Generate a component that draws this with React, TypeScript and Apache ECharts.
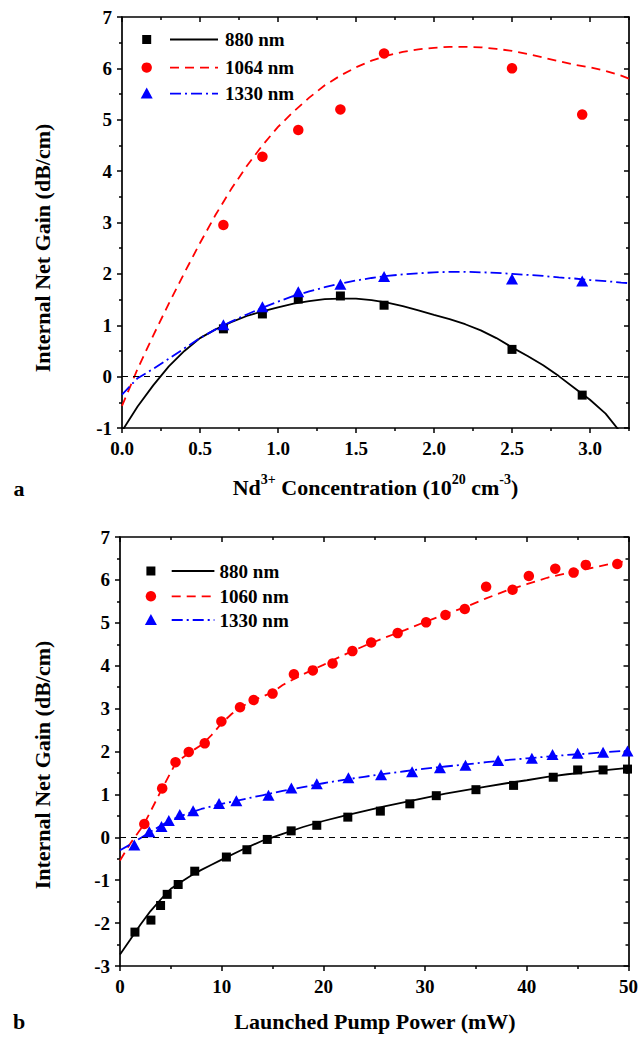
import { useEffect, useRef } from 'react';
import * as echarts from 'echarts';

// ---------- Panel a : gain vs Nd3+ concentration ----------
const concA = [0.65, 0.9, 1.13, 1.4, 1.68, 2.5, 2.95];
const gainA880 = [0.93, 1.22, 1.51, 1.57, 1.39, 0.53, -0.36];
const gainA1064 = [2.95, 4.28, 4.8, 5.2, 6.29, 6.0, 5.1];
const gainA1330 = [1.01, 1.36, 1.65, 1.8, 1.95, 1.9, 1.86];

const fitAX = [0, 0.1, 0.2, 0.3, 0.4, 0.5, 0.6, 0.7, 0.8, 0.9, 1.0, 1.1, 1.2, 1.3, 1.4, 1.5, 1.6, 1.7, 1.8, 1.9, 2.0, 2.1, 2.2, 2.3, 2.4, 2.5, 2.6, 2.7, 2.8, 2.9, 3.0, 3.1, 3.2, 3.25];
const fitA880 = [-1.06, -0.58, -0.17, 0.2, 0.5, 0.75, 0.92, 1.06, 1.18, 1.27, 1.35, 1.42, 1.47, 1.51, 1.52, 1.52, 1.49, 1.44, 1.37, 1.29, 1.2, 1.12, 1.02, 0.9, 0.75, 0.57, 0.4, 0.22, 0.01, -0.22, -0.45, -0.72, -1.1, -1.3];
const fitA1064 = [-0.57, 0.15, 0.8, 1.42, 2.02, 2.6, 3.15, 3.65, 4.1, 4.5, 4.86, 5.16, 5.43, 5.67, 5.86, 6.02, 6.15, 6.25, 6.32, 6.37, 6.4, 6.42, 6.42, 6.41, 6.38, 6.34, 6.28, 6.21, 6.14, 6.07, 6.02, 5.95, 5.86, 5.8];
const fitA1330 = [-0.35, -0.03, 0.15, 0.35, 0.55, 0.75, 0.92, 1.07, 1.21, 1.34, 1.46, 1.57, 1.66, 1.74, 1.81, 1.87, 1.92, 1.96, 1.99, 2.01, 2.03, 2.04, 2.04, 2.03, 2.02, 2.0, 1.98, 1.96, 1.93, 1.91, 1.88, 1.86, 1.83, 1.82];

const ticksAMajor = [0, 0.5, 1.0, 1.5, 2.0, 2.5, 3.0];
const ticksAMinor = [0.25, 0.75, 1.25, 1.75, 2.25, 2.75, 3.25];

// ---------- Panel b : gain vs launched pump power ----------
const powB880 = [1.47, 3.04, 3.99, 4.64, 5.72, 7.35, 10.46, 12.48, 14.48, 16.83, 19.35, 22.4, 25.6, 28.5, 31.1, 35.0, 38.7, 42.6, 45.0, 47.5, 49.9];
const gainB880 = [-2.21, -1.93, -1.59, -1.33, -1.1, -0.79, -0.46, -0.29, -0.05, 0.15, 0.28, 0.47, 0.61, 0.78, 0.97, 1.11, 1.21, 1.4, 1.57, 1.57, 1.59];

const powB1060 = [2.39, 4.15, 5.46, 6.76, 8.33, 9.97, 11.8, 13.14, 15.0, 17.1, 18.96, 20.9, 22.85, 24.7, 27.3, 30.1, 32.0, 33.9, 36.0, 38.6, 40.2, 42.8, 44.6, 45.8, 48.9];
const gainB1060 = [0.31, 1.14, 1.75, 1.99, 2.19, 2.7, 3.03, 3.2, 3.35, 3.8, 3.89, 4.05, 4.34, 4.54, 4.76, 5.01, 5.18, 5.32, 5.84, 5.77, 6.09, 6.26, 6.17, 6.35, 6.37];

const powB1330 = [1.41, 2.88, 4.08, 4.8, 5.88, 7.19, 9.74, 11.44, 14.6, 16.85, 19.35, 22.46, 25.67, 28.72, 31.46, 33.97, 37.18, 40.5, 42.53, 45.0, 47.5, 49.9];
const gainB1330 = [-0.18, 0.13, 0.25, 0.39, 0.53, 0.62, 0.79, 0.85, 0.98, 1.15, 1.25, 1.39, 1.46, 1.53, 1.62, 1.68, 1.79, 1.84, 1.93, 1.96, 1.98, 2.01];

const fitB880X = [0, 1, 2, 3, 4, 4.7, 5, 6, 7, 8, 9, 10, 12, 14, 15, 16, 18, 20, 22, 24, 26, 28, 30, 32, 34, 36, 38, 40, 42, 44, 46, 48, 50];
const fitB880 = [-2.73, -2.39, -2.04, -1.72, -1.45, -1.27, -1.2, -1.04, -0.89, -0.76, -0.64, -0.52, -0.29, -0.08, 0.0, 0.08, 0.24, 0.38, 0.5, 0.61, 0.72, 0.82, 0.92, 1.02, 1.1, 1.18, 1.26, 1.33, 1.41, 1.47, 1.52, 1.57, 1.62];

const fitB1060X = [0, 1, 2, 2.4, 3, 4, 5, 5.3, 6, 7, 8, 9, 10, 11, 12, 13, 14, 15, 16, 18, 20, 22, 24, 26, 28, 30, 32, 34, 36, 38, 40, 42, 44, 46, 48, 50];
const fitB1060 = [-0.54, -0.15, 0.18, 0.33, 0.6, 1.07, 1.52, 1.65, 1.83, 2.0, 2.15, 2.38, 2.66, 2.88, 3.05, 3.18, 3.28, 3.38, 3.55, 3.8, 4.02, 4.25, 4.46, 4.65, 4.83, 5.02, 5.2, 5.37, 5.57, 5.75, 5.9, 6.05, 6.16, 6.26, 6.36, 6.45];

const fitB1330X = [0, 1, 2, 3, 4, 5, 6, 7, 8, 10, 12, 14, 16, 18, 20, 22, 24, 26, 28, 30, 32, 34, 36, 38, 40, 42, 44, 46, 48, 50];
const fitB1330 = [-0.3, -0.17, -0.02, 0.13, 0.27, 0.4, 0.5, 0.58, 0.66, 0.78, 0.88, 0.98, 1.08, 1.17, 1.26, 1.34, 1.41, 1.48, 1.54, 1.6, 1.65, 1.7, 1.75, 1.8, 1.84, 1.88, 1.92, 1.95, 1.99, 2.02];

const legendA = ['880 nm', '1064 nm', '1330 nm'];
const legendB = ['880 nm', '1060 nm', '1330 nm'];

const FONT = '"Liberation Serif", "Times New Roman", Times, serif';
const BLACK = '#000000';
const RED = '#ff0000';
const BLUE = '#0000ff';
const DASH_RED = [9, 6];
const DASH_BLUE = [11, 4, 2, 4];
const DASH_ZERO = [6, 5];

const pairs = (xs: number[], ys: number[]) => xs.map((x, i) => [x, ys[i]]);

const axisLine = { show: true, onZero: false, lineStyle: { color: BLACK, width: 1.7 } };
const tickStyle = { color: BLACK, width: 1.5 };
const labelStyle = { color: BLACK, fontFamily: FONT, fontWeight: 'bold' as const, fontSize: 19 };

function buildOption() {
  const xAxis: any[] = [
    {
      gridIndex: 0, type: 'value', position: 'bottom', min: 0, max: 3.25, interval: 0.25,
      axisLine, splitLine: { show: false },
      axisTick: { show: true, inside: false, length: 5, lineStyle: tickStyle, customValues: ticksAMajor },
      axisLabel: {
        ...labelStyle, margin: 11,
        formatter: (v: number) => (Math.abs(v * 2 - Math.round(v * 2)) < 1e-6 ? v.toFixed(1) : ''),
      },
    },
    {
      gridIndex: 0, type: 'value', position: 'bottom', min: 0, max: 3.25, interval: 0.25,
      axisLine: { show: false, onZero: false }, splitLine: { show: false }, axisLabel: { show: false },
      axisTick: { show: true, inside: false, length: 3, lineStyle: tickStyle, customValues: ticksAMinor },
    },
    {
      gridIndex: 0, type: 'value', position: 'top', min: 0, max: 3.25, interval: 0.25,
      axisLine, splitLine: { show: false }, axisLabel: { show: false },
      axisTick: { show: true, inside: true, length: 5, lineStyle: tickStyle, customValues: ticksAMajor },
    },
    {
      gridIndex: 0, type: 'value', position: 'top', min: 0, max: 3.25, interval: 0.25,
      axisLine: { show: false, onZero: false }, splitLine: { show: false }, axisLabel: { show: false },
      axisTick: { show: true, inside: true, length: 3, lineStyle: tickStyle, customValues: ticksAMinor },
    },
    {
      gridIndex: 1, type: 'value', position: 'bottom', min: 0, max: 50, interval: 10,
      axisLine, splitLine: { show: false },
      axisTick: { show: true, inside: false, length: 5, lineStyle: tickStyle },
      minorTick: { show: true, splitNumber: 2, length: 3, lineStyle: tickStyle },
      axisLabel: { ...labelStyle, margin: 11 },
    },
    {
      gridIndex: 1, type: 'value', position: 'top', min: 0, max: 50, interval: 10,
      axisLine, splitLine: { show: false }, axisLabel: { show: false },
      axisTick: { show: true, inside: true, length: 5, lineStyle: tickStyle },
      minorTick: { show: true, splitNumber: 2, length: 3, lineStyle: tickStyle },
    },
  ];

  const yAxis: any[] = [
    {
      gridIndex: 0, type: 'value', position: 'left', min: -1, max: 7, interval: 1,
      axisLine, splitLine: { show: false },
      axisTick: { show: true, inside: false, length: 5, lineStyle: tickStyle },
      minorTick: { show: true, splitNumber: 2, length: 3, lineStyle: tickStyle },
      axisLabel: { ...labelStyle, margin: 10 },
    },
    {
      gridIndex: 0, type: 'value', position: 'right', min: -1, max: 7, interval: 1,
      axisLine, splitLine: { show: false }, axisLabel: { show: false },
      axisTick: { show: true, inside: true, length: 5, lineStyle: tickStyle },
      minorTick: { show: true, splitNumber: 2, length: 3, lineStyle: tickStyle },
    },
    {
      gridIndex: 1, type: 'value', position: 'left', min: -3, max: 7, interval: 1,
      axisLine, splitLine: { show: false },
      axisTick: { show: true, inside: false, length: 5, lineStyle: tickStyle },
      minorTick: { show: true, splitNumber: 2, length: 3, lineStyle: tickStyle },
      axisLabel: { ...labelStyle, margin: 10 },
    },
    {
      gridIndex: 1, type: 'value', position: 'right', min: -3, max: 7, interval: 1,
      axisLine, splitLine: { show: false }, axisLabel: { show: false },
      axisTick: { show: true, inside: true, length: 5, lineStyle: tickStyle },
      minorTick: { show: true, splitNumber: 2, length: 3, lineStyle: tickStyle },
    },
  ];

  const zeroLine = {
    silent: true, symbol: ['none', 'none'], label: { show: false },
    lineStyle: { color: BLACK, width: 1.2, type: DASH_ZERO },
    data: [{ yAxis: 0 }],
  };

  const fitLine = (name: string, data: number[][], color: string, type: any, xi: number, yi: number, withZero: boolean) => ({
    name, type: 'line', xAxisIndex: xi, yAxisIndex: yi, data,
    symbol: 'none', showSymbol: false, smooth: false, clip: true, z: 2,
    lineStyle: { color, width: 1.8, type },
    ...(withZero ? { markLine: zeroLine } : {}),
  });
  const pts = (name: string, data: number[][], color: string, symbol: string, size: any, xi: number, yi: number) => ({
    name, type: 'scatter', xAxisIndex: xi, yAxisIndex: yi, data,
    symbol, symbolSize: size, z: 5, itemStyle: { color, opacity: 1 },
  });

  const series: any[] = [
    fitLine('a880fit', pairs(fitAX, fitA880), BLACK, 'solid', 0, 0, true),
    fitLine('a1064fit', pairs(fitAX, fitA1064), RED, DASH_RED, 0, 0, false),
    fitLine('a1330fit', pairs(fitAX, fitA1330), BLUE, DASH_BLUE, 0, 0, false),
    pts('a880', pairs(concA, gainA880), BLACK, 'rect', 9, 0, 0),
    pts('a1064', pairs(concA, gainA1064), RED, 'circle', 10.5, 0, 0),
    pts('a1330', pairs(concA, gainA1330), BLUE, 'triangle', [12, 11], 0, 0),

    fitLine('b880fit', pairs(fitB880X, fitB880), BLACK, 'solid', 4, 2, true),
    fitLine('b1060fit', pairs(fitB1060X, fitB1060), RED, DASH_RED, 4, 2, false),
    fitLine('b1330fit', pairs(fitB1330X, fitB1330), BLUE, DASH_BLUE, 4, 2, false),
    pts('b880', pairs(powB880, gainB880), BLACK, 'rect', 9, 4, 2),
    pts('b1060', pairs(powB1060, gainB1060), RED, 'circle', 10.5, 4, 2),
    pts('b1330', pairs(powB1330, gainB1330), BLUE, 'triangle', [12, 11], 4, 2),
  ];

  const txt = (text: string, x: number, y: number, size: number, extra: any = {}) => ({
    type: 'text', x, y, ...extra,
    style: {
      text, fill: BLACK, fontFamily: FONT, fontWeight: 'bold', fontSize: size,
      align: extra.align || 'left', verticalAlign: 'middle',
      textAlign: extra.align || 'left', textVerticalAlign: 'middle',
    },
  });

  const legend = (names: string[], mx: number, lx1: number, lx2: number, tx: number, rows: number[]) => [
    { type: 'rect', shape: { x: mx - 4.5, y: rows[0] - 4.5, width: 9, height: 9 }, style: { fill: BLACK } },
    { type: 'line', shape: { x1: lx1, y1: rows[0], x2: lx2, y2: rows[0] }, style: { stroke: BLACK, lineWidth: 1.8 } },
    txt(names[0], tx, rows[0], 19),
    { type: 'circle', shape: { cx: mx, cy: rows[1], r: 5.2 }, style: { fill: RED } },
    { type: 'line', shape: { x1: lx1, y1: rows[1], x2: lx2, y2: rows[1] }, style: { stroke: RED, lineWidth: 1.8, lineDash: DASH_RED } },
    txt(names[1], tx, rows[1], 19),
    { type: 'polygon', shape: { points: [[mx, rows[2] - 6], [mx + 6, rows[2] + 5], [mx - 6, rows[2] + 5]] }, style: { fill: BLUE } },
    { type: 'line', shape: { x1: lx1, y1: rows[2], x2: lx2, y2: rows[2] }, style: { stroke: BLUE, lineWidth: 1.8, lineDash: DASH_BLUE } },
    txt(names[2], tx, rows[2], 19),
  ];

  const richTitle = {
    type: 'text', x: 375.5, y: 487,
    style: {
      text: '{n|Nd}{s|3+}{n| Concentration (10}{s|20}{n| cm}{s|-3}{n|)}',
      align: 'center', verticalAlign: 'middle', textAlign: 'center', textVerticalAlign: 'middle',
      fill: BLACK,
      rich: {
        n: { fontFamily: FONT, fontWeight: 'bold', fontSize: 22, lineHeight: 30, fill: BLACK },
        s: { fontFamily: FONT, fontWeight: 'bold', fontSize: 14, verticalAlign: 'top', fill: BLACK },
      },
    },
  };

  const graphic: any[] = [
    ...legend(legendA, 146.7, 170, 218, 225, [39.5, 67.6, 93.6]),
    ...legend(legendB, 150.9, 171.7, 214.4, 219.6, [571, 596.3, 620]),
    txt('Internal Net Gain (dB/cm)', 42, 248, 22, { rotation: Math.PI / 2, align: 'center' }),
    txt('Internal Net Gain (dB/cm)', 42, 765, 22, { rotation: Math.PI / 2, align: 'center' }),
    richTitle,
    txt('Launched Pump Power (mW)', 375, 1021, 22, { align: 'center' }),
    txt('a', 19, 488, 22, { align: 'center' }),
    txt('b', 19, 1021, 22, { align: 'center' }),
  ];

  return {
    animation: false,
    backgroundColor: '#ffffff',
    grid: [
      { left: 122, top: 17, width: 507, height: 411, containLabel: false },
      { left: 120, top: 537, width: 510, height: 429, containLabel: false },
    ],
    xAxis, yAxis, series,
    graphic: { elements: graphic },
  };
}

export default function App() {
  const ref = useRef<HTMLDivElement>(null);
  useEffect(() => {
    if (!ref.current) return;
    const chart = echarts.init(ref.current, null, { renderer: 'svg' });
    chart.setOption(buildOption() as any);
    return () => chart.dispose();
  }, []);
  return (
    <div
      ref={ref}
      style={{ position: 'absolute', left: 0, top: 0, width: 641, height: 1041, background: '#ffffff' }}
    />
  );
}
